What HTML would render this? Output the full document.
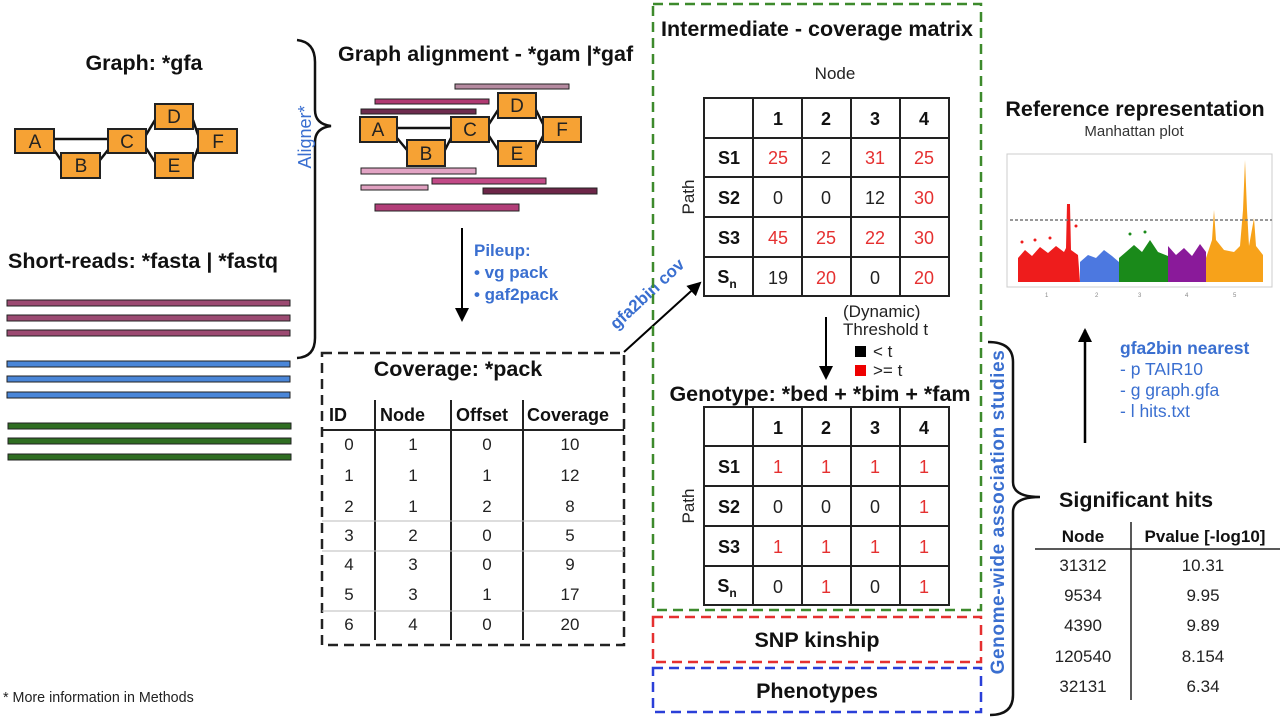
<!DOCTYPE html>
<html><head><meta charset="utf-8"><style>
html,body{margin:0;padding:0;background:#fff;}
svg{display:block;font-family:"Liberation Sans",Arial,sans-serif;}
.t{font-weight:bold;font-size:21.5px;fill:#111;}
.n{font-size:17px;fill:#222;}
.b{font-size:17px;font-weight:bold;fill:#111;}
.r{fill:#e53030;}
.bl{fill:#3a6fd0;}
</style></head><body>
<svg width="1280" height="720" viewBox="0 0 1280 720" xmlns="http://www.w3.org/2000/svg">
<defs>
<marker id="ah2" markerWidth="14" markerHeight="14" refX="12" refY="7" orient="auto" markerUnits="userSpaceOnUse"><path d="M0,0 L14,7 L0,14 z" fill="#000"/></marker>
</defs>

<!-- Graph gfa -->
<text x="144" y="70" class="t" text-anchor="middle">Graph: *gfa</text>
<g stroke="#111" stroke-width="2.5" fill="none">
<line x1="54" y1="139" x2="108" y2="139"/><line x1="54" y1="150" x2="61" y2="160"/><line x1="100" y1="160" x2="108" y2="150"/>
<line x1="146" y1="135" x2="155" y2="120"/><line x1="146" y1="148" x2="155" y2="162"/><line x1="193" y1="120" x2="198" y2="135"/><line x1="193" y1="162" x2="198" y2="148"/>
</g>
<g fill="#f6a234" stroke="#222" stroke-width="2">
<rect x="15" y="129" width="39" height="24"/><rect x="61" y="153" width="39" height="25"/><rect x="108" y="129" width="38" height="24"/>
<rect x="155" y="104" width="38" height="25"/><rect x="155" y="153" width="38" height="25"/><rect x="198" y="129" width="39" height="24"/>
</g>
<g font-size="19" fill="#222" text-anchor="middle">
<text x="35" y="148">A</text><text x="81" y="172">B</text><text x="127" y="148">C</text><text x="174" y="123">D</text><text x="174" y="172">E</text><text x="218" y="148">F</text>
</g>

<!-- Short reads -->
<text x="8" y="268" class="t">Short-reads: *fasta | *fastq</text>
<g stroke="#222" stroke-width="1">
<rect x="7" y="300" width="283" height="6" fill="#9c4a72"/><rect x="7" y="315" width="283" height="6" fill="#9c4a72"/><rect x="7" y="330" width="283" height="6" fill="#9c4a72"/>
<rect x="7" y="361" width="283" height="6" fill="#4a86d8"/><rect x="7" y="376" width="283" height="6" fill="#4a86d8"/><rect x="7" y="392" width="283" height="6" fill="#4a86d8"/>
<rect x="8" y="423" width="283" height="6" fill="#2f6e22"/><rect x="8" y="438" width="283" height="6" fill="#2f6e22"/><rect x="8" y="454" width="283" height="6" fill="#2f6e22"/>
</g>
<text x="3" y="702" font-size="14.3" fill="#222">* More information in Methods</text>

<!-- Brace left -->
<path d="M297,40 Q315,42 315,62 L315,110 Q315,124 331,126 Q315,128 315,142 L315,338 Q315,357 297,358" fill="none" stroke="#111" stroke-width="2.5"/>
<text transform="translate(311,137) rotate(-90)" text-anchor="middle" font-size="18" class="bl">Aligner*</text>

<!-- Graph alignment -->
<text x="338" y="61" class="t" font-size="20.6">Graph alignment - *gam |*gaf</text>
<g stroke="#222" stroke-width="1">
<rect x="455" y="84" width="114" height="5" fill="#b58aa0"/>
<rect x="375" y="99" width="114" height="5" fill="#b03a72"/>
<rect x="361" y="109" width="115" height="5" fill="#6d2b4e"/>
<rect x="361" y="168" width="115" height="6" fill="#e2a4c4"/>
<rect x="432" y="178" width="114" height="6" fill="#c24a87"/>
<rect x="361" y="185" width="67" height="5" fill="#e0a0c0"/>
<rect x="483" y="188" width="114" height="6" fill="#6d2648"/>
<rect x="375" y="204" width="144" height="7" fill="#b23e78"/>
</g>
<g stroke="#111" stroke-width="2.5" fill="none">
<line x1="397" y1="128" x2="451" y2="128"/><line x1="397" y1="138" x2="407" y2="150"/><line x1="445" y1="150" x2="451" y2="138"/>
<line x1="489" y1="124" x2="498" y2="110"/><line x1="489" y1="136" x2="498" y2="150"/><line x1="536" y1="110" x2="543" y2="124"/><line x1="536" y1="150" x2="543" y2="136"/>
</g>
<g fill="#f6a234" stroke="#222" stroke-width="2">
<rect x="360" y="117" width="37" height="25"/><rect x="407" y="140" width="38" height="26"/><rect x="451" y="117" width="38" height="25"/>
<rect x="498" y="93" width="38" height="25"/><rect x="498" y="141" width="38" height="25"/><rect x="543" y="117" width="38" height="25"/>
</g>
<g font-size="19" fill="#222" text-anchor="middle">
<text x="378" y="136">A</text><text x="426" y="160">B</text><text x="470" y="136">C</text><text x="517" y="112">D</text><text x="517" y="160">E</text><text x="562" y="136">F</text>
</g>

<!-- Pileup -->
<line x1="462" y1="228" x2="462" y2="320" stroke="#000" stroke-width="2" marker-end="url(#ah2)"/>
<text x="474" y="256" font-size="17" font-weight="bold" class="bl">Pileup:</text>
<text x="474" y="278" font-size="17" font-weight="bold" class="bl">•  vg pack</text>
<text x="474" y="300" font-size="17" font-weight="bold" class="bl">•  gaf2pack</text>

<!-- Coverage box -->
<rect x="322" y="353" width="302" height="292" fill="none" stroke="#222" stroke-width="2.5" stroke-dasharray="10,6"/>
<text x="458" y="376" class="t" text-anchor="middle">Coverage: *pack</text>
<g stroke="#222" stroke-width="2"><line x1="375" y1="400" x2="375" y2="640"/><line x1="451" y1="400" x2="451" y2="640"/><line x1="523" y1="400" x2="523" y2="640"/><line x1="322" y1="430" x2="624" y2="430"/></g>
<g stroke="#bbb" stroke-width="1"><line x1="322" y1="521" x2="624" y2="521"/><line x1="322" y1="551" x2="624" y2="551"/><line x1="322" y1="611" x2="624" y2="611"/></g>
<g class="b" font-size="18"><text x="329" y="421" font-size="18">ID</text><text x="380" y="421" font-size="18">Node</text><text x="456" y="421" font-size="18">Offset</text><text x="527" y="421" font-size="18">Coverage</text></g>
<g class="n" text-anchor="middle">
<text x="349" y="450">0</text><text x="413" y="450">1</text><text x="487" y="450">0</text><text x="570" y="450">10</text>
<text x="349" y="481">1</text><text x="413" y="481">1</text><text x="487" y="481">1</text><text x="570" y="481">12</text>
<text x="349" y="512">2</text><text x="413" y="512">1</text><text x="487" y="512">2</text><text x="570" y="512">8</text>
<text x="349" y="541">3</text><text x="413" y="541">2</text><text x="487" y="541">0</text><text x="570" y="541">5</text>
<text x="349" y="570">4</text><text x="413" y="570">3</text><text x="487" y="570">0</text><text x="570" y="570">9</text>
<text x="349" y="600">5</text><text x="413" y="600">3</text><text x="487" y="600">1</text><text x="570" y="600">17</text>
<text x="349" y="630">6</text><text x="413" y="630">4</text><text x="487" y="630">0</text><text x="570" y="630">20</text>
</g>

<!-- gfa2bin cov arrow -->
<line x1="624" y1="352" x2="700" y2="283" stroke="#000" stroke-width="2" marker-end="url(#ah2)"/>
<text transform="translate(651,298) rotate(-43)" text-anchor="middle" font-size="17" font-weight="bold" class="bl">gfa2bin cov</text>

<!-- Green / red / blue boxes -->
<rect x="653" y="4" width="328" height="606" fill="none" stroke="#3d8a2c" stroke-width="2.5" stroke-dasharray="10,6"/>
<rect x="653" y="617" width="328" height="45" fill="none" stroke="#e53030" stroke-width="2.5" stroke-dasharray="10,6"/>
<rect x="653" y="668" width="328" height="44" fill="none" stroke="#2a3fd8" stroke-width="2.5" stroke-dasharray="10,6"/>
<text x="817" y="36" class="t" text-anchor="middle">Intermediate - coverage matrix</text>
<text x="817" y="647" class="t" font-size="20.5" text-anchor="middle">SNP kinship</text>
<text x="817" y="698" class="t" font-size="20.5" text-anchor="middle">Phenotypes</text>

<!-- Matrix -->
<text x="835" y="79" font-size="17" fill="#222" text-anchor="middle">Node</text>
<text transform="translate(694,197) rotate(-90)" text-anchor="middle" font-size="17" fill="#222">Path</text>
<g stroke="#222" stroke-width="2" fill="none">
<rect x="704" y="98" width="245" height="198"/>
<line x1="753" y1="98" x2="753" y2="296"/><line x1="802" y1="98" x2="802" y2="296"/><line x1="851" y1="98" x2="851" y2="296"/><line x1="900" y1="98" x2="900" y2="296"/>
<line x1="704" y1="138" x2="949" y2="138"/><line x1="704" y1="177" x2="949" y2="177"/><line x1="704" y1="217" x2="949" y2="217"/><line x1="704" y1="257" x2="949" y2="257"/>
</g>
<g font-size="18" text-anchor="middle">
<g class="b" font-size="18"><text x="778" y="125" font-size="18">1</text><text x="826" y="125" font-size="18">2</text><text x="875" y="125" font-size="18">3</text><text x="924" y="125" font-size="18">4</text>
<text x="729" y="164" font-size="18">S1</text><text x="729" y="204" font-size="18">S2</text><text x="729" y="244" font-size="18">S3</text><text x="727" y="283" font-size="18">S<tspan font-size="12" dy="5">n</tspan></text></g>
<text x="778" y="164" class="r">25</text><text x="826" y="164" fill="#222">2</text><text x="875" y="164" class="r">31</text><text x="924" y="164" class="r">25</text>
<text x="778" y="204" fill="#222">0</text><text x="826" y="204" fill="#222">0</text><text x="875" y="204" fill="#222">12</text><text x="924" y="204" class="r">30</text>
<text x="778" y="244" class="r">45</text><text x="826" y="244" class="r">25</text><text x="875" y="244" class="r">22</text><text x="924" y="244" class="r">30</text>
<text x="778" y="284" fill="#222">19</text><text x="826" y="284" class="r">20</text><text x="875" y="284" fill="#222">0</text><text x="924" y="284" class="r">20</text>
</g>

<!-- threshold -->
<line x1="826" y1="317" x2="826" y2="378" stroke="#000" stroke-width="2" marker-end="url(#ah2)"/>
<text x="843" y="317" font-size="17" fill="#222">(Dynamic)</text>
<text x="843" y="335" font-size="17" fill="#222">Threshold t</text>
<rect x="855" y="346" width="11" height="11" fill="#000"/><text x="873" y="357" font-size="17" fill="#222">&lt; t</text>
<rect x="855" y="365" width="11" height="11" fill="#e00"/><text x="873" y="376" font-size="17" fill="#222">&gt;= t</text>

<!-- Genotype -->
<text x="820" y="401" class="t" text-anchor="middle">Genotype: *bed + *bim + *fam</text>
<text transform="translate(694,506) rotate(-90)" text-anchor="middle" font-size="17" fill="#222">Path</text>
<g stroke="#222" stroke-width="2" fill="none">
<rect x="704" y="407" width="245" height="198"/>
<line x1="753" y1="407" x2="753" y2="605"/><line x1="802" y1="407" x2="802" y2="605"/><line x1="851" y1="407" x2="851" y2="605"/><line x1="900" y1="407" x2="900" y2="605"/>
<line x1="704" y1="446" x2="949" y2="446"/><line x1="704" y1="486" x2="949" y2="486"/><line x1="704" y1="526" x2="949" y2="526"/><line x1="704" y1="566" x2="949" y2="566"/>
</g>
<g font-size="18" text-anchor="middle">
<g class="b"><text x="778" y="434" font-size="18">1</text><text x="826" y="434" font-size="18">2</text><text x="875" y="434" font-size="18">3</text><text x="924" y="434" font-size="18">4</text>
<text x="729" y="473" font-size="18">S1</text><text x="729" y="513" font-size="18">S2</text><text x="729" y="553" font-size="18">S3</text><text x="727" y="592" font-size="18">S<tspan font-size="12" dy="5">n</tspan></text></g>
<text x="778" y="473" class="r">1</text><text x="826" y="473" class="r">1</text><text x="875" y="473" class="r">1</text><text x="924" y="473" class="r">1</text>
<text x="778" y="513" fill="#222">0</text><text x="826" y="513" fill="#222">0</text><text x="875" y="513" fill="#222">0</text><text x="924" y="513" class="r">1</text>
<text x="778" y="553" class="r">1</text><text x="826" y="553" class="r">1</text><text x="875" y="553" class="r">1</text><text x="924" y="553" class="r">1</text>
<text x="778" y="593" fill="#222">0</text><text x="826" y="593" class="r">1</text><text x="875" y="593" fill="#222">0</text><text x="924" y="593" class="r">1</text>
</g>

<!-- GWAS -->
<text transform="translate(1004,512) rotate(-90)" text-anchor="middle" font-size="19" font-weight="bold" class="bl" letter-spacing="0.6">Genome-wide association studies</text>
<path d="M988,342 Q1013,342 1013,362 L1013,482 Q1013,497 1040,497 Q1013,497 1013,512 L1013,695 Q1013,715 990,715" fill="none" stroke="#111" stroke-width="2.5"/>

<!-- Reference representation -->
<text x="1135" y="116" class="t" text-anchor="middle">Reference representation</text>
<text x="1134" y="136" font-size="15" fill="#333" text-anchor="middle">Manhattan plot</text>
<rect x="1007" y="154" width="265" height="133" fill="none" stroke="#ccc" stroke-width="1"/>
<polygon points="1018,282 1018,258 1025,250 1032,256 1040,247 1048,253 1056,246 1064,252 1066,248 1067,204 1070,204 1071,250 1078,255 1080,282" fill="#ee1c1c"/>
<polygon points="1080,282 1080,262 1088,255 1096,258 1104,250 1112,256 1119,262 1119,282" fill="#4c78e0"/>
<polygon points="1119,282 1119,258 1126,252 1134,245 1142,252 1150,240 1158,252 1168,256 1168,282" fill="#1a8a1a"/>
<polygon points="1168,282 1168,246 1176,255 1184,248 1192,256 1200,244 1206,252 1206,282" fill="#8a1a9a"/>
<polygon points="1206,282 1206,258 1212,240 1214,210 1216,240 1224,250 1234,252 1240,246 1243,210 1245,160 1247,210 1249,246 1254,218 1256,246 1263,255 1263,282" fill="#f7a21a"/>
<g fill="#ee1c1c"><circle cx="1022" cy="242" r="1.5"/><circle cx="1035" cy="240" r="1.5"/><circle cx="1050" cy="238" r="1.5"/><circle cx="1076" cy="226" r="1.5"/></g>
<g fill="#1a8a1a"><circle cx="1130" cy="234" r="1.5"/><circle cx="1145" cy="232" r="1.5"/></g>
<line x1="1010" y1="220" x2="1272" y2="220" stroke="#777" stroke-width="1.5" stroke-dasharray="3,2"/>
<g font-size="6" fill="#888"><text x="1045" y="297">1</text><text x="1095" y="297">2</text><text x="1138" y="297">3</text><text x="1185" y="297">4</text><text x="1233" y="297">5</text></g>

<!-- gfa2bin nearest -->
<line x1="1085" y1="443" x2="1085" y2="330" stroke="#000" stroke-width="2.5" marker-end="url(#ah2)"/>
<text x="1120" y="354" font-size="17.5" font-weight="bold" class="bl">gfa2bin nearest</text>
<text x="1120" y="375" font-size="17.5" class="bl">- p TAIR10</text>
<text x="1120" y="396" font-size="17.5" class="bl">- g graph.gfa</text>
<text x="1120" y="417" font-size="17.5" class="bl">- l hits.txt</text>

<!-- Significant hits -->
<text x="1059" y="507" class="t">Significant hits</text>
<line x1="1035" y1="549" x2="1280" y2="549" stroke="#222" stroke-width="1.5"/>
<line x1="1131" y1="522" x2="1131" y2="700" stroke="#222" stroke-width="1.5"/>
<text x="1083" y="542" class="b" font-size="18" text-anchor="middle">Node</text>
<text x="1205" y="542" class="b" font-size="18" text-anchor="middle">Pvalue [-log10]</text>
<g class="n" text-anchor="middle">
<text x="1083" y="571">31312</text><text x="1203" y="571">10.31</text>
<text x="1083" y="601">9534</text><text x="1203" y="601">9.95</text>
<text x="1083" y="631">4390</text><text x="1203" y="631">9.89</text>
<text x="1083" y="662">120540</text><text x="1203" y="662">8.154</text>
<text x="1083" y="692">32131</text><text x="1203" y="692">6.34</text>
</g>
</svg>
</body></html>
